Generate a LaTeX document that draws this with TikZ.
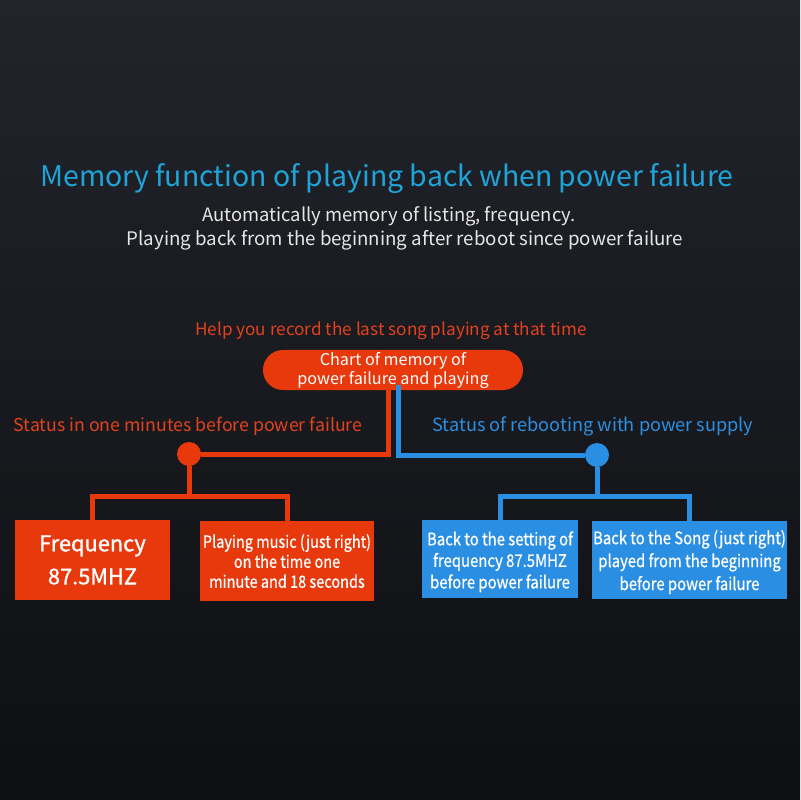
\documentclass[tikz,border=0pt]{standalone}
\usepackage{fontspec}
\setmainfont{Noto Sans CJK SC}
\newfontfamily\narrowfont[FakeStretch=0.86,FakeBold=0.7]{Noto Sans CJK SC}
\newfontfamily\heavyfont[FakeBold=1.2]{Noto Sans CJK SC}
\usepackage{xcolor}
\definecolor{titlecyan}{RGB}{32,163,216}
\definecolor{redtext}{RGB}{226,66,28}
\definecolor{redfill}{RGB}{232,57,13}
\definecolor{bluefill}{RGB}{42,142,227}
\definecolor{bluetext}{RGB}{45,143,224}
\definecolor{greytext}{RGB}{230,230,230}
\definecolor{bgtop}{RGB}{33,36,43}
\definecolor{bgbot}{RGB}{14,15,18}

\begin{document}
\begin{tikzpicture}[x=0.025cm,y=-0.025cm,
    olink/.style={redfill,line width=0.125cm},
    blink/.style={bluefill,line width=0.125cm},
    obox/.style={fill=redfill,text=white,inner sep=0pt,minimum height=2cm},
    bbox/.style={fill=bluefill,text=white,inner sep=0pt,minimum height=1.95cm},
    dot/.style={circle,inner sep=0pt,minimum size=0.6cm}]
    \shade[top color=bgtop,bottom color=bgbot] (0,0) rectangle (800,800);
    \useasboundingbox (0,0) rectangle (800,800);

    \node[titlecyan,font=\fontsize{20.2}{24}\selectfont] (title) at (387,179)
      {Memory function of playing back when power failure};
    \node[greytext,font=\fontsize{13.1}{15}\selectfont] (sub1) at (389,216)
      {Automatically memory of listing, frequency.};
    \node[greytext,font=\fontsize{13.3}{15}\selectfont] (sub2) at (405,240)
      {Playing back from the beginning after reboot since power failure};

    \node[redtext,font=\fontsize{12.2}{14}\selectfont] (help) at (391,331)
      {Help you record the last song playing at that time};
    \node[fill=redfill,text=white,rounded corners=0.5cm,minimum width=6.5cm,
      minimum height=1cm,inner sep=0pt,align=center,
      font=\fontsize{11.5}{13.5}\selectfont] (chart) at (393,370)
      {Chart of memory of\\power failure and playing};

    \node[redtext,font=\fontsize{12.6}{15}\selectfont] (lstat) at (188,426)
      {Status in one minutes before power failure};
    \node[bluetext,font=\fontsize{12.9}{15}\selectfont] (rstat) at (593,426)
      {Status of rebooting with power supply};

    \node[dot,fill=redfill] (ldot) at (189,454) {};
    \node[dot,fill=bluefill] (rdot) at (597,455) {};

    \coordinate (otop) at (388,385);
    \coordinate (btop) at (398,385);
    \coordinate (ohub) at (189,496);
    \coordinate (bhub) at (597,496);

    \node[obox,minimum width=3.875cm,align=center,
      font=\heavyfont\fontsize{15.5}{23.5}\selectfont] (freq) at (92.5,560)
      {Frequency\\87.5MHZ};
    \node[obox,minimum width=4.35cm,align=center,
      font=\narrowfont\fontsize{12}{14.2}\selectfont] (play) at (287,561)
      {Playing music (just right)\\on the time one\\minute and 18 seconds};
    \node[bbox,minimum width=3.9cm,align=center,
      font=\narrowfont\fontsize{12.3}{15.3}\selectfont] (bset) at (500,559)
      {\rule{0pt}{14pt}Back to the setting of\\frequency 87.5MHZ\\before power failure};
    \node[bbox,minimum width=4.875cm,align=center,
      font=\narrowfont\fontsize{12.3}{16.3}\selectfont] (bsong) at (689.5,560)
      {\rule{0pt}{13pt}Back to the Song (just right)\\played from the beginning\\before power failure};

    \draw[olink] (otop) |- (ldot);
    \draw[blink] (btop) |- (rdot);
    \draw[olink] (ldot) -- (ohub);
    \draw[blink] (rdot) -- (bhub);
    \draw[olink] (freq.north) |- (ohub) -| (play.north);
    \draw[blink] (bset.north) |- (bhub) -| (bsong.north);
  \end{tikzpicture}
\end{document}
